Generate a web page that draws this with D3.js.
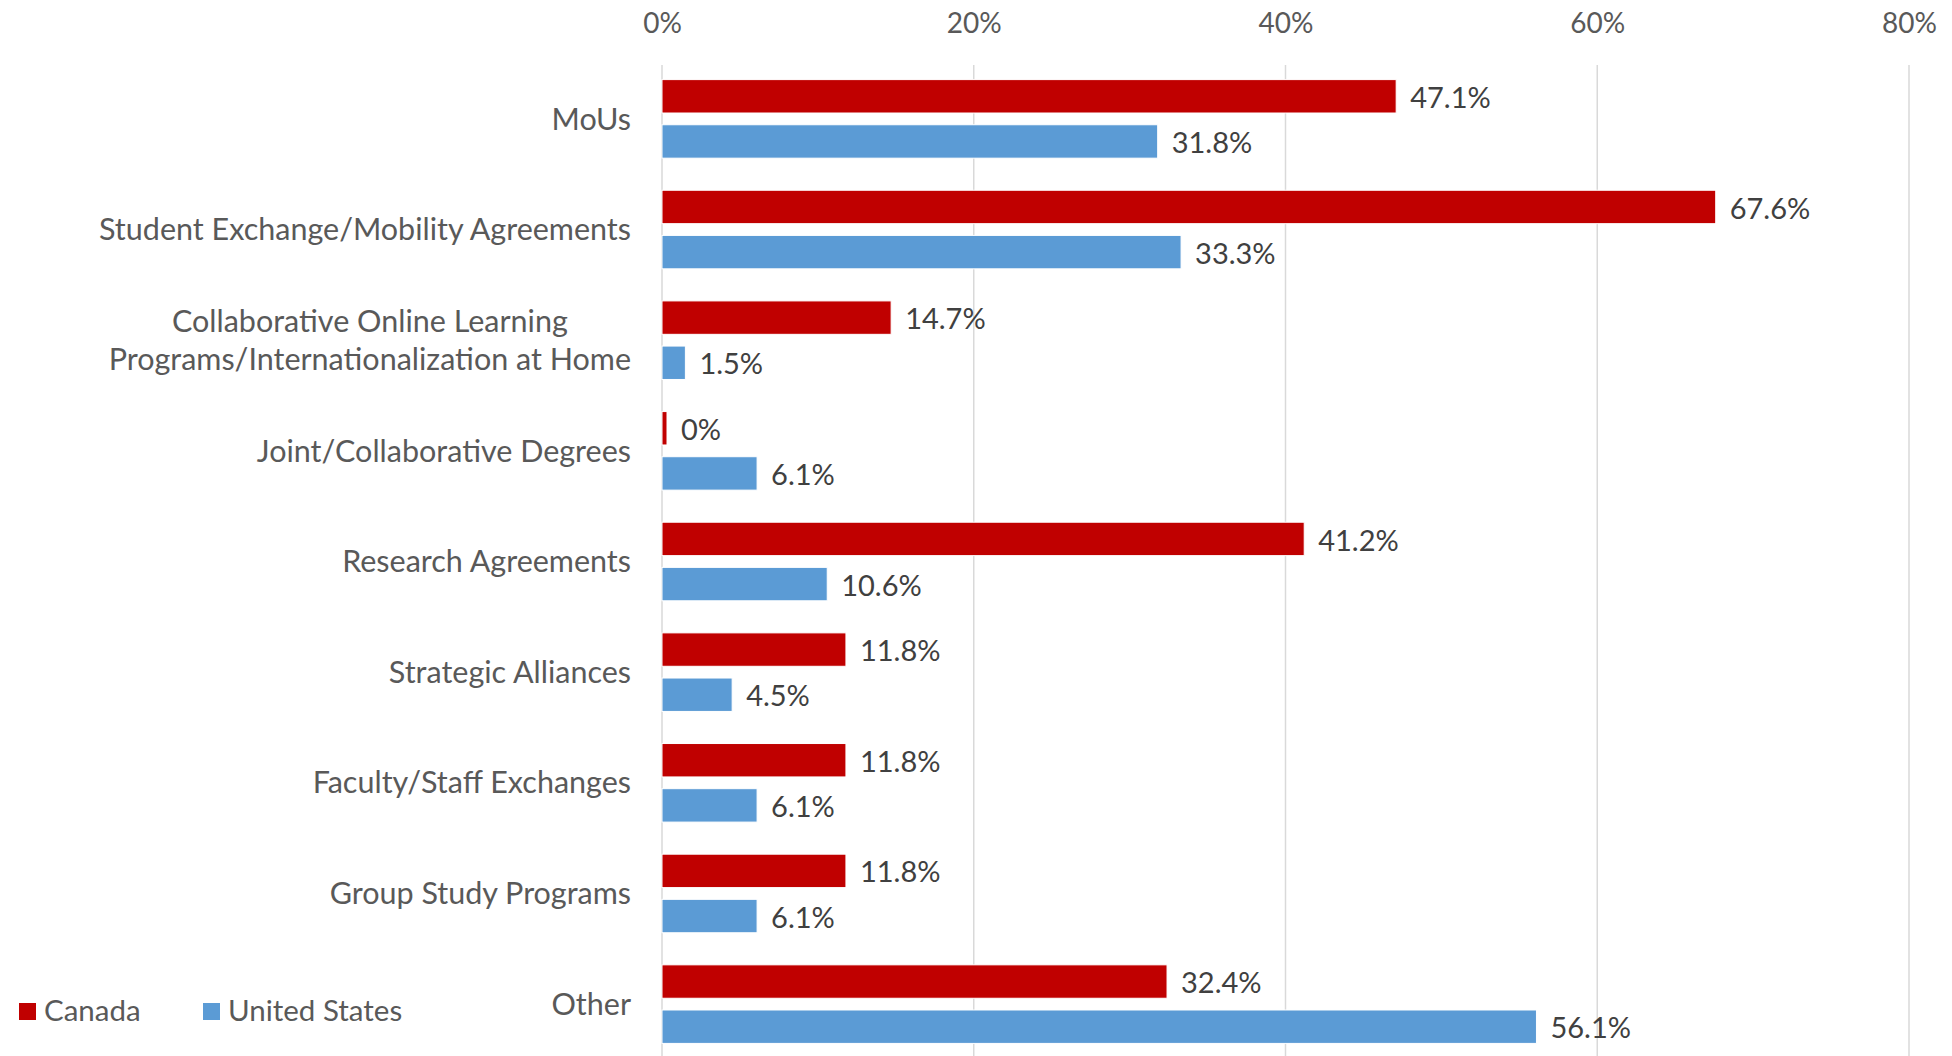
<!DOCTYPE html>
<html>
<head>
  <title>Partnership types - Canada vs United States</title>
  <style>
    body { margin: 0; background: #fff; }
    #chart { width: 1952px; height: 1056px; overflow: hidden; }
    text { font-family: Lato, "Open Sans", sans-serif; }
  </style>
  <script src="https://d3js.org/d3.v7.min.js"></script>
</head>
<body>
  <div id="chart"></div>

  <script>
    // data
    var categories = [
      "MoUs",
      "Student Exchange/Mobility Agreements",
      "Collaborative Online Learning|Programs/Internationalization at Home",
      "Joint/Collaborative Degrees",
      "Research Agreements",
      "Strategic Alliances",
      "Faculty/Staff Exchanges",
      "Group Study Programs",
      "Other"
    ];
    var canada = [47.1, 67.6, 14.7, 0, 41.2, 11.8, 11.8, 11.8, 32.4];
    var unitedStates = [31.8, 33.3, 1.5, 6.1, 10.6, 4.5, 6.1, 6.1, 56.1];
    var seriesNames = ["Canada", "United States"];
    var seriesColors = ["#C00000", "#5B9BD5"];
    var xTicks = [0, 20, 40, 60, 80];

    var width = 1952, height = 1056;

    var svg = d3.select("#chart")
      .append("svg")
      .attr("width", width)
      .attr("height", height);

    // scales
    var x = d3.scaleLinear().domain([0, 80]).range([662, 1909]);
    var y = d3.scaleBand().domain(categories).range([63, 1060])
      .paddingInner(0.29).paddingOuter(0.15);
    var ySub = d3.scaleBand().domain(seriesNames).range([0, y.bandwidth()])
      .paddingInner(0.26);

    // gridlines
    svg.append("g")
      .selectAll("line")
      .data(xTicks)
      .enter()
      .append("line")
      .attr("x1", function(d) { return x(d); })
      .attr("x2", function(d) { return x(d); })
      .attr("y1", 65)
      .attr("y2", height)
      .attr("stroke", "#d9d9d9")
      .attr("stroke-width", 1.5);

    // top axis labels
    var xAxis = d3.axisTop(x).tickValues(xTicks).tickSize(0).tickPadding(0)
      .tickFormat(function(d) { return d + "%"; });
    var gx = svg.append("g")
      .attr("transform", "translate(0,23)")
      .call(xAxis);
    gx.select(".domain").remove();
    gx.selectAll("text")
      .attr("font-family", "Lato, 'Open Sans', sans-serif")
      .attr("font-size", 28)
      .attr("fill", "#595959")
      .attr("dy", "0.35em");

    // left axis labels
    var yAxis = d3.axisLeft(y).tickSize(0).tickPadding(0);
    var gy = svg.append("g")
      .attr("transform", "translate(631,0)")
      .call(yAxis);
    gy.select(".domain").remove();
    gy.selectAll("text")
      .attr("font-family", "Lato, 'Open Sans', sans-serif")
      .attr("font-size", 30.5)
      .attr("fill", "#595959")
      .each(function(d) {
        var parts = d.split("|");
        var t = d3.select(this).text(null).attr("dy", null);
        if (parts.length === 1) {
          t.append("tspan").attr("x", 0).attr("dy", "0.35em").text(parts[0]);
        } else {
          // lines centred on each other, block right-aligned
          var spans = parts.map(function(p, i) {
            return t.append("tspan").attr("dy", i === 0 ? "-0.28em" : "1.27em").text(p);
          });
          var widths = spans.map(function(s) { return s.node().getComputedTextLength(); });
          var maxW = d3.max(widths);
          spans.forEach(function(s) {
            s.attr("text-anchor", "middle").attr("x", -maxW / 2);
          });
          t.attr("text-anchor", "middle");
        }
      });

    // bars
    var rows = categories.map(function(c, i) {
      return { cat: c, values: [canada[i], unitedStates[i]] };
    });

    var groups = svg.append("g")
      .selectAll("g")
      .data(rows)
      .enter()
      .append("g")
      .attr("transform", function(d) { return "translate(0," + y(d.cat) + ")"; });

    var bars = groups.selectAll("g.bar")
      .data(function(d) {
        return d.values.map(function(v, i) { return { name: seriesNames[i], value: v, color: seriesColors[i] }; });
      })
      .enter()
      .append("g")
      .attr("class", "bar");

    bars.append("rect")
      .attr("x", x(0))
      .attr("y", function(d) { return ySub(d.name); })
      .attr("height", ySub.bandwidth())
      .attr("width", function(d) { return Math.max(x(d.value) - x(0), 5); })
      .attr("fill", function(d) { return d.color; })
      .attr("stroke", "#fff")
      .attr("stroke-width", 1);

    bars.append("text")
      .attr("x", function(d) { return Math.max(x(d.value), x(0) + 5) + 14; })
      .attr("y", function(d) { return ySub(d.name) + ySub.bandwidth() / 2; })
      .attr("dy", "0.4em")
      .attr("font-size", 29)
      .attr("fill", "#404040")
      .text(function(d) { return d.value + "%"; });

    // legend
    var legendX = [19, 203];
    var legend = svg.append("g")
      .selectAll("g")
      .data(seriesNames)
      .enter()
      .append("g")
      .attr("transform", function(d, i) { return "translate(" + legendX[i] + ",1011)"; });

    legend.append("rect")
      .attr("x", 0)
      .attr("y", -8)
      .attr("width", 17)
      .attr("height", 17)
      .attr("fill", function(d, i) { return seriesColors[i]; });

    legend.append("text")
      .attr("x", 25)
      .attr("dy", "0.35em")
      .attr("font-size", 29.5)
      .attr("fill", "#595959")
      .text(function(d) { return d; });
  </script>
</body>
</html>
